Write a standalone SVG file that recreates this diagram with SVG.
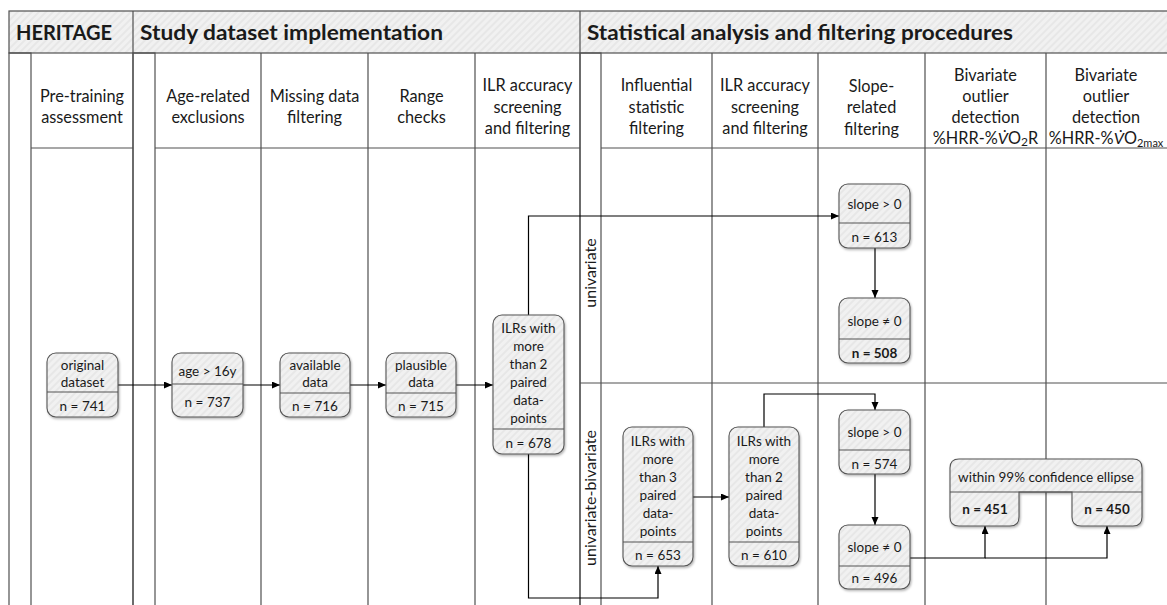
<svg xmlns="http://www.w3.org/2000/svg" width="1167" height="605" viewBox="0 0 1167 605">
<defs>
<pattern id="hatch" width="5" height="5" patternUnits="userSpaceOnUse" patternTransform="rotate(45)"><rect width="5" height="5" fill="#f1f1f1"/><rect width="2" height="5" fill="#e7e7e7"/></pattern>
<pattern id="hatch2" width="5" height="5" patternUnits="userSpaceOnUse" patternTransform="rotate(45)"><rect width="5" height="5" fill="#ebebeb"/><rect width="2" height="5" fill="#dedede"/></pattern>
<filter id="sh" x="-10%" y="-10%" width="130%" height="130%"><feDropShadow dx="1" dy="1.5" stdDeviation="1" flood-color="#000" flood-opacity="0.3"/></filter>
<marker id="ah" markerWidth="9" markerHeight="8" refX="8" refY="3.5" orient="auto" markerUnits="userSpaceOnUse"><path d="M0,0 L8,3.5 L0,7 z" fill="#000"/></marker>
</defs>
<style>
text{font-family:Lato,"Open Sans","Liberation Sans",sans-serif;fill:#1a1a1a}
.title{font-size:21px;font-weight:bold}
.col{font-size:16.3px;text-anchor:middle}
.nt{font-size:13.5px;text-anchor:middle}
.b{font-weight:bold}
.lane{font-size:16px;text-anchor:middle}
.ln{stroke:#505050;stroke-width:1.2;fill:none}
.node{fill:url(#hatch);stroke:#555;stroke-width:1.1;filter:url(#sh)}
.div{stroke:#555;stroke-width:1.1}
.con{stroke:#000;stroke-width:1.2;fill:none}
.arr{marker-end:url(#ah)}
</style>
<rect width="1167" height="605" fill="#fff"/>
<g id="pool">
<rect x="9" y="11" width="1165" height="42" fill="url(#hatch)" stroke="#505050" stroke-width="1.2"/>
<rect x="9" y="53" width="22" height="560" fill="url(#hatch2)" class="ln"/>
<rect x="133" y="53" width="22" height="560" fill="url(#hatch2)" class="ln"/>
<rect x="580" y="53" width="21" height="560" fill="url(#hatch2)" class="ln"/>
<path class="ln" d="M133,11 V605 M580,11 V605 M261,53 V605 M368,53 V605 M475,53 V605 M712,53 V605 M818,53 V605 M925,53 V605 M1046,53 V605 M31,148 H133 M155,148 H580 M601,148 H1167 M580,383 H1167"/>
<text class="title" x="16" y="40" textLength="96" lengthAdjust="spacingAndGlyphs">HERITAGE</text>
<text class="title" x="140" y="40" textLength="303" lengthAdjust="spacingAndGlyphs">Study dataset implementation</text>
<text class="title" x="587" y="40" textLength="426" lengthAdjust="spacingAndGlyphs">Statistical analysis and filtering procedures</text>
<text class="col" x="82" y="102">Pre-training</text><text class="col" x="82" y="123">assessment</text>
<text class="col" x="208" y="102">Age-related</text><text class="col" x="208" y="123">exclusions</text>
<text class="col" x="314.5" y="102">Missing data</text><text class="col" x="314.5" y="123">filtering</text>
<text class="col" x="421.5" y="102">Range</text><text class="col" x="421.5" y="123">checks</text>
<text class="col" x="527.5" y="91">ILR accuracy</text><text class="col" x="527.5" y="113">screening</text><text class="col" x="527.5" y="134">and filtering</text>
<text class="col" x="656.5" y="91">Influential</text><text class="col" x="656.5" y="113">statistic</text><text class="col" x="656.5" y="134">filtering</text>
<text class="col" x="765" y="91">ILR accuracy</text><text class="col" x="765" y="113">screening</text><text class="col" x="765" y="134">and filtering</text>
<text class="col" x="871.5" y="92">Slope-</text><text class="col" x="871.5" y="113">related</text><text class="col" x="871.5" y="135">filtering</text>
<text class="col" x="985.5" y="81">Bivariate</text><text class="col" x="985.5" y="102">outlier</text><text class="col" x="985.5" y="123">detection</text>
<text class="col" x="985.5" y="144">%HRR-%<tspan font-style="italic">V̇</tspan>O<tspan font-size="12" dy="2">2</tspan><tspan dy="-2">R</tspan></text>
<text class="col" x="1106" y="81">Bivariate</text><text class="col" x="1106" y="102">outlier</text><text class="col" x="1106" y="123">detection</text>
<text class="col" x="1106" y="144">%HRR-%<tspan font-style="italic">V̇</tspan>O<tspan font-size="11" dy="2.5">2max</tspan></text>
<text class="lane" transform="translate(596,273) rotate(-90)">univariate</text>
<text class="lane" transform="translate(596,498) rotate(-90)">univariate-bivariate</text>
</g>
<g id="connectors">
<path class="con arr" d="M118,385 H172"/>
<path class="con arr" d="M243,385 H280"/>
<path class="con arr" d="M350,385 H386"/>
<path class="con arr" d="M456,385 H493"/>
<path class="con arr" d="M528.5,315 V216 H839"/>
<path class="con arr" d="M528.5,454 V598 H658 V566"/>
<path class="con arr" d="M693,497 H729"/>
<path class="con arr" d="M764,427 V394 H875 V410"/>
<path class="con arr" d="M875,248 V298"/>
<path class="con arr" d="M875,474 V525"/>
<path class="con arr" d="M910,558 H985 V526"/>
<path class="con arr" d="M985,558 H1107 V526"/>
</g>
<g id="n741">
<rect class="node" x="47" y="353" width="71" height="64" rx="9"/>
<line class="div" x1="47" y1="392" x2="118" y2="392"/>
<text class="nt" x="82.5" y="369.5">original</text><text class="nt" x="82.5" y="386.5">dataset</text>
<text class="nt" x="82.5" y="410.5">n = 741</text>
</g>
<g id="n737">
<rect class="node" x="172" y="353" width="71" height="64" rx="9"/>
<line class="div" x1="172" y1="384" x2="243" y2="384"/>
<text class="nt" x="207.5" y="375.5">age &gt; 16y</text>
<text class="nt" x="207.5" y="406.5">n = 737</text>
</g>
<g id="n716">
<rect class="node" x="280" y="353" width="70" height="64" rx="9"/>
<line class="div" x1="280" y1="393" x2="350" y2="393"/>
<text class="nt" x="315" y="369.5">available</text><text class="nt" x="315" y="386.5">data</text>
<text class="nt" x="315" y="410.5">n = 716</text>
</g>
<g id="n715">
<rect class="node" x="386" y="353" width="70" height="64" rx="9"/>
<line class="div" x1="386" y1="393" x2="456" y2="393"/>
<text class="nt" x="421" y="369.5">plausible</text><text class="nt" x="421" y="386.5">data</text>
<text class="nt" x="421" y="410.5">n = 715</text>
</g>
<g id="n678">
<rect class="node" x="493" y="315" width="71" height="139" rx="9"/>
<line class="div" x1="493" y1="429" x2="564" y2="429"/>
<text class="nt" x="528.5" y="332.5">ILRs with</text><text class="nt" x="528.5" y="350.5">more</text><text class="nt" x="528.5" y="368.5">than 2</text><text class="nt" x="528.5" y="386.5">paired</text><text class="nt" x="528.5" y="404.5">data-</text><text class="nt" x="528.5" y="422.5">points</text>
<text class="nt" x="528.5" y="447.5">n = 678</text>
</g>
<g id="n653">
<rect class="node" x="623" y="427" width="70" height="139" rx="9"/>
<line class="div" x1="623" y1="542" x2="693" y2="542"/>
<text class="nt" x="658" y="445.5">ILRs with</text><text class="nt" x="658" y="463.5">more</text><text class="nt" x="658" y="481.5">than 3</text><text class="nt" x="658" y="499.5">paired</text><text class="nt" x="658" y="517.5">data-</text><text class="nt" x="658" y="535.5">points</text>
<text class="nt" x="658" y="559.5">n = 653</text>
</g>
<g id="n610">
<rect class="node" x="729" y="427" width="70" height="139" rx="9"/>
<line class="div" x1="729" y1="542" x2="799" y2="542"/>
<text class="nt" x="764" y="445.5">ILRs with</text><text class="nt" x="764" y="463.5">more</text><text class="nt" x="764" y="481.5">than 2</text><text class="nt" x="764" y="499.5">paired</text><text class="nt" x="764" y="517.5">data-</text><text class="nt" x="764" y="535.5">points</text>
<text class="nt" x="764" y="559.5">n = 610</text>
</g>
<g id="n613">
<rect class="node" x="839" y="184" width="71" height="64" rx="9"/>
<line class="div" x1="839" y1="223" x2="910" y2="223"/>
<text class="nt" x="874.5" y="208.5">slope &gt; 0</text>
<text class="nt" x="874.5" y="241.5">n = 613</text>
</g>
<g id="n508">
<rect class="node" x="839" y="298" width="71" height="65" rx="9"/>
<line class="div" x1="839" y1="339" x2="910" y2="339"/>
<text class="nt" x="874.5" y="325.5">slope ≠ 0</text>
<text class="nt b" x="874.5" y="357.5">n = 508</text>
</g>
<g id="n574">
<rect class="node" x="839" y="410" width="71" height="64" rx="9"/>
<line class="div" x1="839" y1="450" x2="910" y2="450"/>
<text class="nt" x="874.5" y="436.5">slope &gt; 0</text>
<text class="nt" x="874.5" y="468.5">n = 574</text>
</g>
<g id="n496">
<rect class="node" x="839" y="525" width="71" height="64" rx="9"/>
<line class="div" x1="839" y1="566" x2="910" y2="566"/>
<text class="nt" x="874.5" y="551.5">slope ≠ 0</text>
<text class="nt" x="874.5" y="582.5">n = 496</text>
</g>
<g id="ellipse">
<path class="node" d="M959,459 H1133 Q1142,459 1142,468 V517 Q1142,526 1133,526 H1081 Q1072,526 1072,517 V492 H1019 V517 Q1019,526 1010,526 H959 Q950,526 950,517 V468 Q950,459 959,459 Z"/>
<line class="div" x1="950" y1="492" x2="1142" y2="492"/>
<text class="nt" x="1046" y="481.5">within 99% confidence ellipse</text>
<text class="nt b" x="985" y="513.5">n = 451</text>
<text class="nt b" x="1107" y="513.5">n = 450</text>
</g>
</svg>
